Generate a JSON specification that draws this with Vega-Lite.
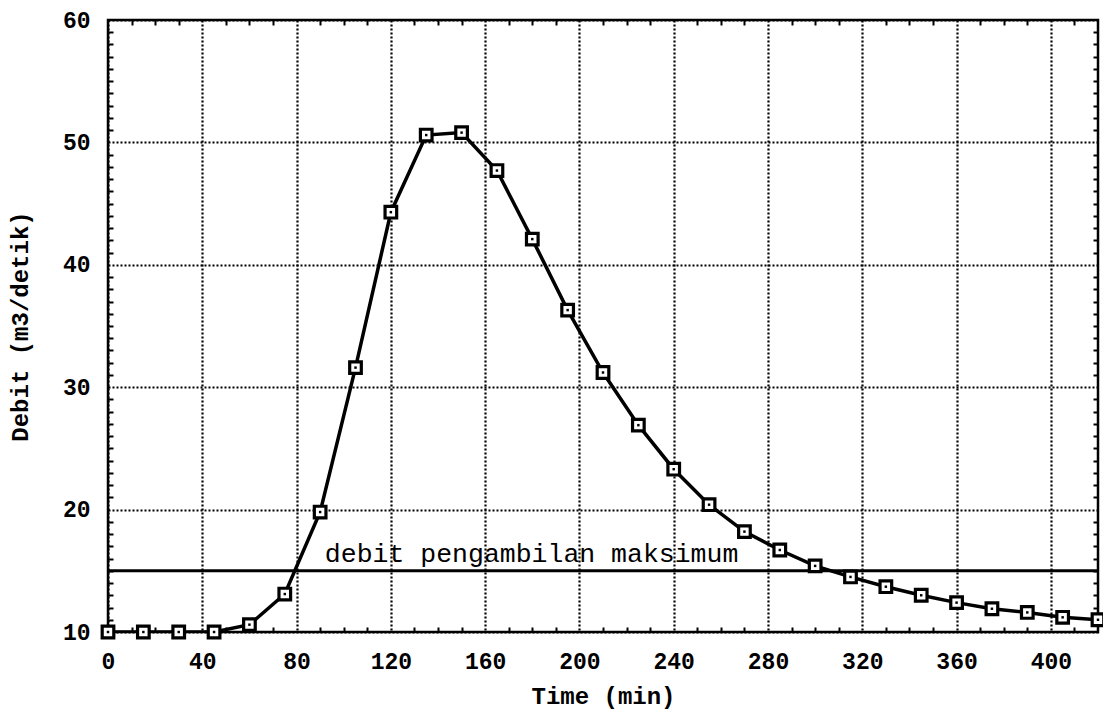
{
  "$schema": "https://vega.github.io/schema/vega-lite/v6.json",
  "width": 990,
  "height": 612,
  "autosize": "none",
  "padding": {"left": 108, "top": 20, "right": 5, "bottom": 84},
  "background": "white",
  "config": {
    "view": {"stroke": "black", "strokeWidth": 2.5},
    "font": "Liberation Mono",
    "axis": {
      "labelFont": "Liberation Mono",
      "titleFont": "Liberation Mono",
      "labelColor": "black",
      "titleColor": "black"
    }
  },
  "datasets": {
    "flow": [
      {"Time": 0, "Debit": 10.0},
      {"Time": 15, "Debit": 10.0},
      {"Time": 30, "Debit": 10.0},
      {"Time": 45, "Debit": 10.0},
      {"Time": 60, "Debit": 10.6},
      {"Time": 75, "Debit": 13.1},
      {"Time": 90, "Debit": 19.8},
      {"Time": 105, "Debit": 31.6},
      {"Time": 120, "Debit": 44.3},
      {"Time": 135, "Debit": 50.6},
      {"Time": 150, "Debit": 50.8},
      {"Time": 165, "Debit": 47.7},
      {"Time": 180, "Debit": 42.1},
      {"Time": 195, "Debit": 36.3},
      {"Time": 210, "Debit": 31.2},
      {"Time": 225, "Debit": 26.9},
      {"Time": 240, "Debit": 23.3},
      {"Time": 255, "Debit": 20.4},
      {"Time": 270, "Debit": 18.2},
      {"Time": 285, "Debit": 16.7},
      {"Time": 300, "Debit": 15.4},
      {"Time": 315, "Debit": 14.5},
      {"Time": 330, "Debit": 13.7},
      {"Time": 345, "Debit": 13.0},
      {"Time": 360, "Debit": 12.4},
      {"Time": 375, "Debit": 11.9},
      {"Time": 390, "Debit": 11.6},
      {"Time": 405, "Debit": 11.2},
      {"Time": 420, "Debit": 11.0}
    ],
    "limit": [
      {"Debit": 15, "Time": 92, "label": "debit pengambilan maksimum"}
    ]
  },
  "resolve": {"axis": {"x": "independent", "y": "independent"}},
  "layer": [
    {
      "data": {"name": "flow"},
      "mark": {"type": "line", "color": "black", "strokeWidth": 3.5, "clip": true},
      "encoding": {
        "x": {
          "field": "Time", "type": "quantitative",
          "scale": {"domain": [0, 420], "nice": false, "zero": false},
          "axis": {
            "orient": "bottom",
            "title": "Time (min)",
            "values": [0, 40, 80, 120, 160, 200, 240, 280, 320, 360, 400],
            "domain": false, "ticks": false,
            "labelFontSize": 23, "labelFontWeight": "bold", "labelPadding": 18,
            "labelFlush": false,
            "titleFontSize": 24, "titleFontWeight": "bold", "titlePadding": 11,
            "grid": true, "gridColor": "black", "gridDash": [2, 2], "gridWidth": 2.2, "gridOpacity": 1
          }
        },
        "y": {
          "field": "Debit", "type": "quantitative",
          "scale": {"domain": [10, 60], "nice": false, "zero": false},
          "axis": {
            "orient": "left",
            "title": "Debit (m3/detik)",
            "values": [10, 20, 30, 40, 50, 60],
            "domain": false, "ticks": false,
            "labelFontSize": 23, "labelFontWeight": "bold", "labelPadding": 18,
            "labelFlush": false,
            "titleFontSize": 24, "titleFontWeight": "bold", "titlePadding": 30,
            "grid": true, "gridColor": "black", "gridDash": [2, 2], "gridWidth": 2.2, "gridOpacity": 1
          }
        }
      }
    },
    {
      "data": {"name": "limit"},
      "mark": {"type": "rule", "color": "black", "strokeWidth": 3},
      "encoding": {
        "y": {"field": "Debit", "type": "quantitative", "axis": null}
      }
    },
    {
      "data": {"name": "limit"},
      "mark": {"type": "text", "align": "left", "baseline": "alphabetic", "dy": -9, "fontSize": 26.5, "font": "Liberation Mono", "color": "black"},
      "encoding": {
        "x": {"field": "Time", "type": "quantitative", "axis": null},
        "y": {"field": "Debit", "type": "quantitative", "axis": null},
        "text": {"field": "label"}
      }
    },
    {
      "data": {"name": "flow"},
      "mark": {"type": "point", "shape": "square", "size": 135, "filled": true, "fill": "white", "stroke": "black", "strokeWidth": 3.2, "opacity": 1},
      "encoding": {
        "x": {
          "field": "Time", "type": "quantitative",
          "axis": {
            "orient": "bottom", "title": null, "labels": false, "domain": false, "grid": false,
            "values": [10, 20, 30, 50, 60, 70, 90, 100, 110, 130, 140, 150, 170, 180, 190, 210, 220, 230, 250, 260, 270, 290, 300, 310, 330, 340, 350, 370, 380, 390, 410],
            "ticks": true, "tickSize": -5, "tickWidth": 2, "tickColor": "black"
          }
        },
        "y": {
          "field": "Debit", "type": "quantitative",
          "axis": {
            "orient": "left", "title": null, "labels": false, "domain": false, "grid": false,
            "values": [11, 12, 13, 14, 15, 16, 17, 18, 19, 21, 22, 23, 24, 25, 26, 27, 28, 29, 31, 32, 33, 34, 35, 36, 37, 38, 39, 41, 42, 43, 44, 45, 46, 47, 48, 49, 51, 52, 53, 54, 55, 56, 57, 58, 59],
            "ticks": true, "tickSize": -5, "tickWidth": 2, "tickColor": "black"
          }
        }
      }
    },
    {
      "data": {"name": "flow"},
      "mark": {"type": "point", "shape": "square", "size": 6, "filled": true, "color": "black", "opacity": 1},
      "encoding": {
        "x": {
          "field": "Time", "type": "quantitative",
          "axis": {
            "orient": "top", "title": null, "labels": false, "domain": false, "grid": false,
            "values": [10, 20, 30, 50, 60, 70, 90, 100, 110, 130, 140, 150, 170, 180, 190, 210, 220, 230, 250, 260, 270, 290, 300, 310, 330, 340, 350, 370, 380, 390, 410],
            "ticks": true, "tickSize": -5, "tickWidth": 2, "tickColor": "black"
          }
        },
        "y": {
          "field": "Debit", "type": "quantitative",
          "axis": {
            "orient": "right", "title": null, "labels": false, "domain": false, "grid": false,
            "values": [11, 12, 13, 14, 15, 16, 17, 18, 19, 21, 22, 23, 24, 25, 26, 27, 28, 29, 31, 32, 33, 34, 35, 36, 37, 38, 39, 41, 42, 43, 44, 45, 46, 47, 48, 49, 51, 52, 53, 54, 55, 56, 57, 58, 59],
            "ticks": true, "tickSize": -5, "tickWidth": 2, "tickColor": "black"
          }
        }
      }
    }
  ]
}
